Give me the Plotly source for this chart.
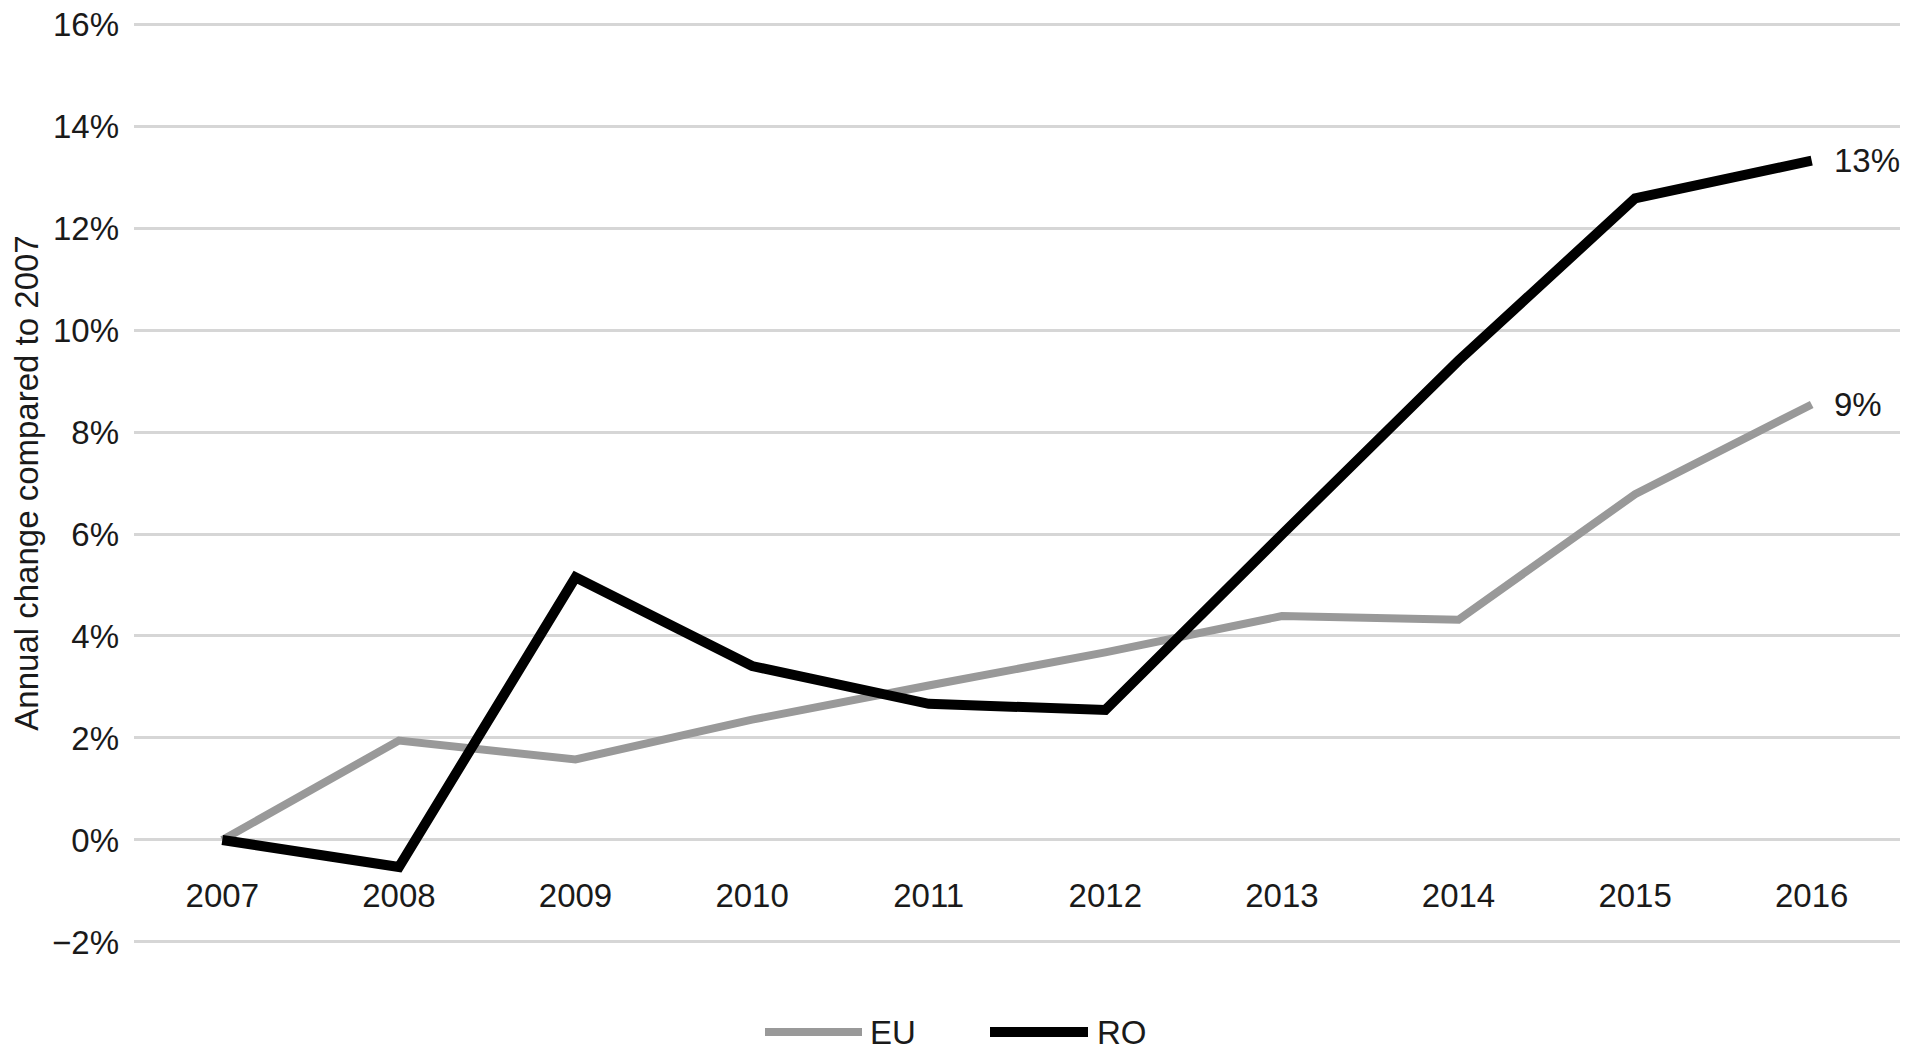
import plotly.graph_objects as go

years = ["2007", "2008", "2009", "2010", "2011", "2012", "2013", "2014", "2015", "2016"]
eu_values = [0.0, 1.95, 1.58, 2.36, 3.03, 3.68, 4.39, 4.32, 6.78, 8.54]
ro_values = [0.0, -0.53, 5.15, 3.41, 2.67, 2.55, 5.99, 9.40, 12.58, 13.32]
y_tick_vals = [-2, 0, 2, 4, 6, 8, 10, 12, 14, 16]
y_tick_text = ["\u22122%", "0%", "2%", "4%", "6%", "8%", "10%", "12%", "14%", "16%"]
end_labels = {"EU": "9%", "RO": "13%"}
series_names = ["EU", "RO"]

FONT = "Liberation Sans, Arial, Helvetica, sans-serif"
FS = 33
TXT = "#1a1a1a"
EU_COLOR = "#999999"
RO_COLOR = "#000000"

# page has an 8px body margin; figure sized to fill the rest of the window
OFF = 8
W, H = 1913 - OFF, 1056 - OFF
L, R, T, B = 134 - OFF, 13, 23 - OFF, 1056 - 943
pw, ph = W - L - R, H - T - B


def px_x(p):  # page pixel -> paper
    return (p - OFF - L) / pw


def px_y(p):
    return (H - B - (p - OFF)) / ph


fig = go.Figure()
fig.add_trace(go.Scatter(x=years, y=eu_values, mode="lines", name="EU",
                         line=dict(color=EU_COLOR, width=8), showlegend=False,
                         cliponaxis=False))
fig.add_trace(go.Scatter(x=years, y=ro_values, mode="lines", name="RO",
                         line=dict(color=RO_COLOR, width=10), showlegend=False,
                         cliponaxis=False))

last_idx = len(years) - 1
annotations = []
for name, vals in (("EU", eu_values), ("RO", ro_values)):
    annotations.append(dict(x=last_idx, y=vals[-1], xref="x", yref="y",
                            text=end_labels[name], showarrow=False, xanchor="left",
                            yanchor="middle", xshift=20,
                            font=dict(family=FONT, size=FS, color=TXT)))

# custom legend (long line keys like the reference)
legend_y = px_y(1032)
shapes = []
keys = [(series_names[0], EU_COLOR, 8, 765, 862, 868),
        (series_names[1], RO_COLOR, 10, 990, 1088, 1095)]
for name, col, wd, x0, x1, xt in keys:
    shapes.append(dict(type="line", xref="paper", yref="paper",
                       x0=px_x(x0), x1=px_x(x1), y0=legend_y, y1=legend_y,
                       line=dict(color=col, width=wd)))
    annotations.append(dict(x=px_x(xt), y=legend_y, xref="paper", yref="paper",
                            text=name, showarrow=False, xanchor="left",
                            yanchor="middle",
                            font=dict(family=FONT, size=FS, color=TXT)))

fig.update_layout(
    width=W, height=H,
    margin=dict(l=L, r=R, t=T, b=B, autoexpand=False),
    paper_bgcolor="white", plot_bgcolor="white",
    font=dict(family=FONT, size=FS, color=TXT),
    showlegend=False,
    annotations=annotations,
    shapes=shapes,
    xaxis=dict(type="category", range=[-0.5, 9.5], showgrid=False,
               zeroline=False, showline=False, ticks="",
               anchor="free", position=2.02 / 18.04, ticklabelstandoff=33,
               ticklabeloverflow="allow",
               tickfont=dict(family=FONT, size=FS, color=TXT)),
    yaxis=dict(range=[-2.02, 16.02], tickvals=y_tick_vals, ticktext=y_tick_text,
               showgrid=True, gridcolor="#d6d6d6", gridwidth=3,
               zeroline=False, showline=False, ticks="",
               ticklabelstandoff=14, ticklabeloverflow="allow",
               tickfont=dict(family=FONT, size=FS, color=TXT),
               title=dict(text="Annual change compared to 2007",
                          font=dict(family=FONT, size=FS, color=TXT),
                          standoff=10)),
)

fig.write_html("out.html")
